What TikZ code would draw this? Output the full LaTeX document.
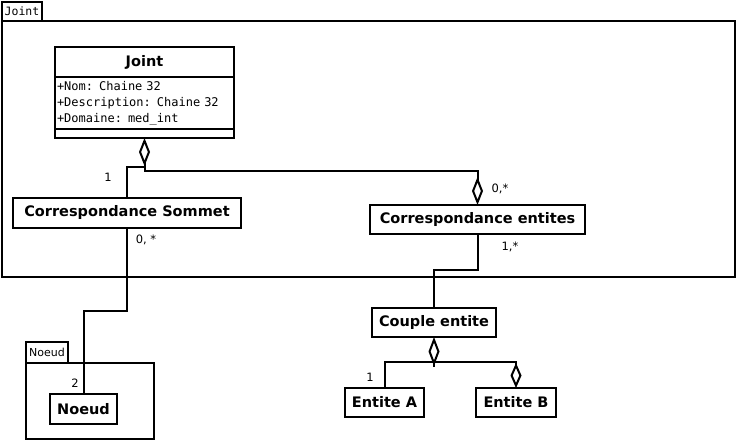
\documentclass[tikz,border=0pt]{standalone}
\usepackage{fontspec}
\setmainfont{DejaVu Sans}
\setmonofont{DejaVu Sans Mono}
\usetikzlibrary{arrows.meta,positioning}

\begin{document}
\begin{tikzpicture}[x=1pt, y=-1pt, line width=2pt,
                    every node/.style={inner sep=0pt, outer sep=0pt}]
  % styles
  \tikzstyle{cls}=[rectangle,draw,align=center,font=\fontsize{14.5}{16}\selectfont\bfseries]
  \tikzstyle{attr}=[rectangle,draw,align=left,text width=175pt,
                    font=\fontsize{12}{16}\selectfont\ttfamily]
  \tikzstyle{pkg}=[rectangle,draw]
  \tikzstyle{pkgtab}=[rectangle,draw,font=\fontsize{11}{13}\selectfont]
  \tikzstyle{mult}=[font=\fontsize{11.5}{13}\selectfont]

  \useasboundingbox (0,0) rectangle (737,441);

  % packages
  \node[pkgtab,font=\fontsize{11.5}{13}\selectfont\ttfamily,minimum width=40pt,
        minimum height=19pt,anchor=south west] (jointTab) at (2,21) {Joint};
  \node[pkg,minimum width=733pt,minimum height=256pt,anchor=north west] (jointPkg) at (2,21) {};
  \node[pkgtab,minimum width=42pt,minimum height=21pt,anchor=south west] (noeudTab) at (26,363) {Noeud};
  \node[pkg,minimum width=128pt,minimum height=76pt,anchor=north west] (noeudPkg) at (26,363) {};

  % class Joint
  \node[cls,minimum width=179pt,minimum height=30pt,anchor=north west] (jointHead) at (55,47) {Joint};
  \node[attr,minimum width=179pt,minimum height=52pt,below=0pt of jointHead] (jointAttr)
       {+Nom: Chaine 32\\+Description: Chaine 32\\+Domaine: med\_int};
  \node[cls,minimum width=179pt,minimum height=9pt,below=0pt of jointAttr] (jointOps) {};

  % other classes
  \node[cls,minimum width=228pt,minimum height=30pt,anchor=north west] (sommet) at (13,198) {Correspondance Sommet};
  \node[cls,minimum width=215pt,minimum height=29pt,anchor=north west] (entites) at (370,205) {Correspondance entites};
  \node[cls,minimum width=124pt,minimum height=29pt,anchor=north west] (couple) at (372,308) {Couple entite};
  \node[cls,minimum width=67pt,minimum height=30pt,anchor=north west] (noeud) at (50,394) {Noeud};
  \node[cls,minimum width=79pt,minimum height=29pt,anchor=north west] (entiteA) at (345,388) {Entite A};
  \node[cls,minimum width=80pt,minimum height=29pt,anchor=north west] (entiteB) at (476,388) {Entite B};

  % aggregations
  \draw[{Diamond[open,length=28pt,width=11pt]}-] (jointOps.south) -- ++(0,29) coordinate (jointAgg) -| (sommet.north);
  \draw[-{Diamond[open,length=28pt,width=11pt]}] (jointAgg) -- ++(0,4) -| (entites.north);
  \draw[{Diamond[open,length=29pt,width=11pt]}-] (couple.south) -- ++(0,30);
  \path (couple.south) ++(0,25) coordinate (coupleAgg);
  \draw (coupleAgg) -| (entiteA.north);
  \draw[-{Diamond[open,length=25pt,width=11pt]}] (coupleAgg) -| (entiteB.north);

  % associations
  \draw (sommet.south) -- ++(0,83) -| (noeud.north);
  \draw (entites.south) -- ++(0,36) -| (couple.north);

  % multiplicities
  \node[mult] (multSommetTop) at (108,177) {1};
  \node[mult] (multSommetBot) at (146,240) {0, *};
  \node[mult] (multEntitesTop) at (500,189) {0,*};
  \node[mult] (multEntitesBot) at (510,247) {1,*};
  \node[mult] (multNoeud) at (75,383) {2};
  \node[mult] (multEntiteA) at (370,377) {1};
\end{tikzpicture}
\end{document}
